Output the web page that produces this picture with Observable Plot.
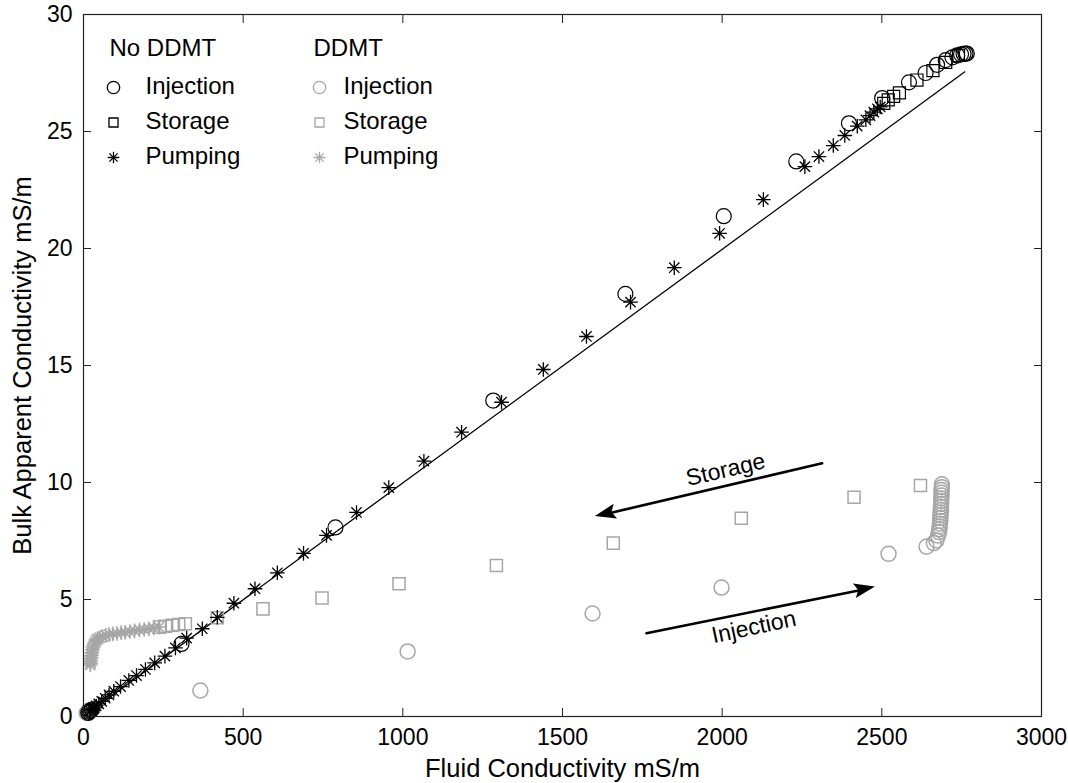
<!DOCTYPE html>
<html><head><meta charset="utf-8">
<script src="https://cdn.jsdelivr.net/npm/d3@7"></script>
<script src="https://cdn.jsdelivr.net/npm/@observablehq/plot@0.6"></script>
<style>body{margin:0;background:#fff}</style>
</head><body><div id="chart"></div>
<script>
// ---- data (fluid conductivity mS/m, bulk apparent conductivity mS/m) ----
const xTicks = [0, 500, 1000, 1500, 2000, 2500, 3000];
const yTicks = [0, 5, 10, 15, 20, 25, 30];

const noDdmtInjection = [[15,0.15],[18,0.2],[22,0.25],[26,0.3],[307,3.1],[789,8.08],[1283,13.5],[1697,18.06],[2005,21.38],[2232,23.72],[2397,25.35],[2501,26.43],[2585,27.1],[2637,27.5],[2673,27.85],[2700,28.05],[2721,28.17],[2736,28.25],[2748,28.3],[2756,28.32],[2762,28.33],[2766,28.33]];
const noDdmtStorage = [[2506,26.2],[2520,26.35],[2537,26.5],[2555,26.65],[2610,27.2],[2660,27.6],[2700,27.95],[2740,28.25]];
const noDdmtPumping = [[2495,26.05],[2486,25.97],[2475,25.83],[2463,25.68],[2450,25.5],[2423,25.23],[2384,24.83],[2348,24.4],[2303,23.93],[2259,23.5],[2129,22.09],[1992,20.65],[1850,19.18],[1713,17.71],[1575,16.24],[1440,14.83],[1309,13.43],[1184,12.15],[1066,10.91],[956,9.78],[855,8.72],[761,7.74],[689,6.97],[607,6.14],[537,5.46],[471,4.84],[419,4.24],[372,3.75],[323,3.35],[288,2.93],[255,2.58],[223,2.29],[194,2.01],[166,1.75],[142,1.54],[116,1.28],[95,1.08],[80,0.92],[68,0.78],[57,0.65],[48,0.54],[40,0.45],[33,0.37],[27,0.3],[22,0.24],[18,0.19]];

const ddmtInjection = [[10,0.15],[13,0.2],[16,0.25],[366,1.11],[1015,2.78],[1594,4.4],[1998,5.51],[2521,6.95],[2640,7.26],[2663,7.41],[2671,7.52],[2676,7.73],[2679,7.88],[2680,8.0],[2681,8.12],[2682,8.24],[2683,8.36],[2683,8.48],[2684,8.6],[2684,8.72],[2685,8.84],[2685,8.96],[2686,9.08],[2686,9.2],[2686,9.32],[2687,9.44],[2687,9.56],[2687,9.68],[2688,9.8],[2688,9.92]];
const ddmtStorage = [[2621,9.87],[2413,9.37],[2060,8.47],[1659,7.41],[1293,6.45],[988,5.67],[747,5.06],[562,4.6],[419,4.22],[319,3.96],[298,3.93],[278,3.9],[257,3.86],[238,3.82]];
const ddmtPumping = [[236,3.82],[220,3.78],[205,3.75],[190,3.72],[175,3.7],[160,3.66],[145,3.63],[130,3.6],[118,3.58],[105,3.55],[92,3.53],[80,3.5],[70,3.47],[60,3.42],[52,3.37],[45,3.32],[40,3.26],[36,3.18],[33,3.08],[30,2.97],[28,2.85],[26,2.72],[25,2.6],[24,2.48],[23,2.37],[22,2.28],[21,2.2]];

const modelLine = [[0,0],[2760,27.55]];

const arrows = [
  {label: "Storage", x1: 2313, y1: 10.82, x2: 1603, y2: 8.55, tx: 2011, ty: 10.54, rot: -13},
  {label: "Injection", x1: 1763, y1: 3.56, x2: 2480, y2: 5.53, tx: 2099, ty: 3.82, rot: -12}
];

const legendGroups = ["No DDMT", "DDMT"];
const legendPhases = ["Injection", "Storage", "Pumping"];

// ---- styles ----
const BLACK = "#000";
const GRAY = "#a6a6a6";
const FONT = '"Liberation Sans", Arial, Helvetica, sans-serif';

const asterisk = {
  draw(ctx, size) {
    const r = Math.sqrt(size / Math.PI), d = r * Math.SQRT1_2;
    ctx.moveTo(-r, 0); ctx.lineTo(r, 0);
    ctx.moveTo(0, -r); ctx.lineTo(0, r);
    ctx.moveTo(-d, -d); ctx.lineTo(d, d);
    ctx.moveTo(-d, d); ctx.lineTo(d, -d);
  }
};
const symbols = {Injection: "circle", Storage: "square", Pumping: asterisk};
const plotR = {Injection: 7.5, Storage: 6.8, Pumping: 7.3};
const legR = {Injection: 6.2, Storage: 5.1, Pumping: 5.8};

function series(data, phase, color, sw) {
  return Plot.dot(data, {x: d => d[0], y: d => d[1], symbol: symbols[phase], r: plotR[phase],
    stroke: color, fill: "none", strokeWidth: sw});
}

const legendMarks = [];
const headerDx = [26, 230], symDx = [30, 236], textDx = [62, 260];
legendGroups.forEach((g, gi) => {
  const color = gi === 0 ? BLACK : GRAY;
  legendMarks.push(Plot.text([g], {text: d => d, frameAnchor: "top-left", dx: headerDx[gi], dy: 34,
    textAnchor: "start", lineAnchor: "middle", fontSize: 24, fontFamily: FONT, fill: BLACK}));
  legendPhases.forEach((p, pi) => {
    legendMarks.push(Plot.dot([p], {frameAnchor: "top-left", dx: symDx[gi], dy: 73 + pi * 35,
      symbol: symbols[p], r: legR[p], stroke: color, fill: "none", strokeWidth: 1.3}));
    legendMarks.push(Plot.text([p], {text: d => d, frameAnchor: "top-left", dx: textDx[gi], dy: 72 + pi * 35,
      textAnchor: "start", lineAnchor: "middle", fontSize: 24, fontFamily: FONT, fill: BLACK}));
  });
});

const fmt = d3.format("d");

const chart = Plot.plot({
  width: 1068, height: 783,
  marginLeft: 83, marginRight: 27, marginTop: 14, marginBottom: 67,
  style: {background: "#fff", color: "#000"},
  x: {domain: [0, 3000]},
  y: {domain: [0, 30]},
  marks: [
    Plot.line(modelLine, {x: d => d[0], y: d => d[1], stroke: BLACK, strokeWidth: 1.3}),
    series(ddmtStorage, "Storage", GRAY, 1.5),
    series(ddmtPumping, "Pumping", GRAY, 1.5),
    series(ddmtInjection, "Injection", GRAY, 1.5),
    series(noDdmtStorage, "Storage", BLACK, 1.2),
    series(noDdmtPumping, "Pumping", BLACK, 1.3),
    series(noDdmtInjection, "Injection", BLACK, 1.2),
    Plot.arrow(arrows, {x1: "x1", y1: "y1", x2: "x2", y2: "y2", stroke: BLACK, strokeWidth: 2.6, headLength: 0, insetEnd: 12}),
    Plot.text(arrows, {x: "tx", y: "ty", text: "label", rotate: d => d.rot, fontSize: 23, fontFamily: FONT, fill: BLACK}),
    ...legendMarks,
    Plot.frame({stroke: "#222", strokeWidth: 1.2}),
    Plot.axisX(xTicks, {anchor: "bottom", tickSize: -8, tickPadding: 20, tickFormat: fmt, fontSize: 23, fontFamily: FONT, label: null, stroke: "#222"}),
    Plot.axisX(xTicks, {anchor: "top", tickSize: -8, tickFormat: () => "", label: null, stroke: "#222"}),
    Plot.axisY(yTicks, {anchor: "left", tickSize: -8, tickPadding: 19, tickFormat: fmt, fontSize: 23, fontFamily: FONT, label: null, stroke: "#222"}),
    Plot.axisY(yTicks, {anchor: "right", tickSize: -8, tickFormat: () => "", label: null, stroke: "#222"}),
    Plot.text(["Fluid Conductivity mS/m"], {text: d => d, frameAnchor: "bottom", dy: 52, textAnchor: "middle", lineAnchor: "middle", fontSize: 25.5, fontFamily: FONT, fill: BLACK}),
    Plot.text(["Bulk Apparent Conductivity mS/m"], {text: d => d, frameAnchor: "left", dx: -61, rotate: -90, textAnchor: "middle", lineAnchor: "middle", fontSize: 25.5, fontFamily: FONT, fill: BLACK})
  ]
});

// filled arrowheads positioned through the plot's own scales
const sx = chart.scale("x"), sy = chart.scale("y");
const svg = d3.select(chart);
for (const a of arrows) {
  const x1 = sx.apply(a.x1), y1 = sy.apply(a.y1), x2 = sx.apply(a.x2), y2 = sy.apply(a.y2);
  const ang = Math.atan2(y2 - y1, x2 - x1), c = Math.cos(ang), s = Math.sin(ang);
  const L = 21, W = 7.5, notch = 4;
  const bx = x2 - L * c, by = y2 - L * s;
  svg.append("path")
    .attr("d", `M${x2},${y2}L${bx - s * W},${by + c * W}L${bx + notch * c},${by + notch * s}L${bx + s * W},${by - c * W}Z`)
    .attr("fill", BLACK);
}
document.getElementById("chart").append(chart);
</script>
</body></html>
